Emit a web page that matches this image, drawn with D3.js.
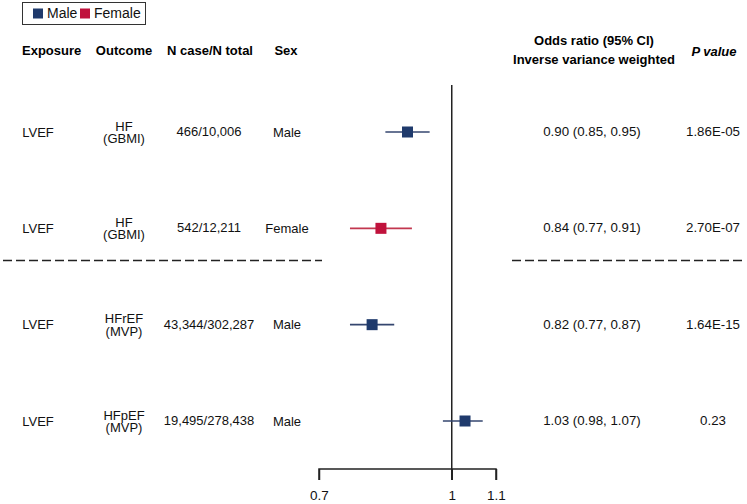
<!DOCTYPE html>
<html><head><meta charset="utf-8">
<script src="https://cdn.jsdelivr.net/npm/d3@7"></script>
<style>body{margin:0;background:#fff}svg{display:block;font-family:"Liberation Sans",Arial,sans-serif}</style>
</head><body><svg id="c" width="747" height="504"></svg>
<script>
const exposures = ["LVEF","LVEF","LVEF","LVEF"];
const outcomes = [["HF","(GBMI)"],["HF","(GBMI)"],["HFrEF","(MVP)"],["HFpEF","(MVP)"]];
const ncases = ["466/10,006","542/12,211","43,344/302,287","19,495/278,438"];
const sexes = ["Male","Female","Male","Male"];
const orValues = [0.90,0.84,0.82,1.03];
const ciLow = [0.85,0.77,0.77,0.98];
const ciHigh = [0.95,0.91,0.87,1.07];
const orLabels = ["0.90 (0.85, 0.95)","0.84 (0.77, 0.91)","0.82 (0.77, 0.87)","1.03 (0.98, 1.07)"];
const pValues = ["1.86E-05","2.70E-07","1.64E-15","0.23"];
const tickValues = [0.7,1,1.1];
const tickLabels = ["0.7","1","1.1"];
const legendItems = ["Male","Female"];

const svg = d3.select("#c");
const colors = {Male:"#1f3a6c", Female:"#c0123c"};
const lineColors = {Male:"#34466f", Female:"#c2374f"};
const x = d3.scaleLinear().domain([0.7,1.1]).range([319,496]);
const y = d3.scalePoint().domain(d3.range(4)).range([132,421]);
const fs = 13;

// legend
const lg = svg.append("g");
lg.append("rect").attr("x",22.5).attr("y",2.5).attr("width",123).attr("height",22).attr("fill","#fff").attr("stroke","#333").attr("stroke-width",1);
const lx = [33,80];
legendItems.forEach((k,i)=>{
  lg.append("rect").attr("x",lx[i]).attr("y",8.5).attr("width",10).attr("height",10).attr("fill",colors[k]);
  lg.append("text").attr("x",lx[i]+14).attr("y",18).attr("font-size",14).attr("fill","#111").text(k);
});

// headers
const hdr = svg.append("g").attr("font-weight","bold").attr("font-size",fs).attr("fill","#000");
hdr.append("text").attr("x",22).attr("y",55).text("Exposure");
hdr.append("text").attr("x",124).attr("y",55).attr("text-anchor","middle").text("Outcome");
hdr.append("text").attr("x",210).attr("y",55).attr("text-anchor","middle").text("N case/N total");
hdr.append("text").attr("x",286).attr("y",55).attr("text-anchor","middle").text("Sex");
hdr.append("text").attr("x",594).attr("y",45).attr("text-anchor","middle").text("Odds ratio (95% CI)");
hdr.append("text").attr("x",594).attr("y",64).attr("text-anchor","middle").text("Inverse variance weighted");
hdr.append("text").attr("x",714).attr("y",56).attr("text-anchor","middle").attr("font-style","italic").text("P value");

// rows
const rows = svg.append("g").attr("font-size",fs).attr("fill","#111");
d3.range(4).forEach(i=>{
  const yy = y(i);
  rows.append("text").attr("x",38).attr("y",yy+4.5).attr("text-anchor","middle").text(exposures[i]);
  const ot = rows.append("text").attr("x",124).attr("y",yy-1.5).attr("text-anchor","middle");
  ot.append("tspan").attr("x",124).attr("y",yy-1.5).text(outcomes[i][0]);
  ot.append("tspan").attr("x",124).attr("y",yy+11).text(outcomes[i][1]);
  rows.append("text").attr("x",209).attr("y",yy+4).attr("text-anchor","middle").text(ncases[i]);
  rows.append("text").attr("x",287).attr("y",yy+4.5).attr("text-anchor","middle").text(sexes[i]);
  rows.append("text").attr("x",592).attr("y",yy+4).attr("text-anchor","middle").attr("font-size",13.3).text(orLabels[i]);
  rows.append("text").attr("x",713).attr("y",yy+4).attr("text-anchor","middle").attr("font-size",13.3).text(pValues[i]);
});

// dashed separators
const sepY = (y(1)+y(2))/2 - 16;
svg.append("line").attr("x1",3).attr("x2",322).attr("y1",sepY).attr("y2",sepY).attr("stroke","#222").attr("stroke-width",1.3).attr("stroke-dasharray","9,4");
svg.append("line").attr("x1",512).attr("x2",744).attr("y1",sepY).attr("y2",sepY).attr("stroke","#222").attr("stroke-width",1.3).attr("stroke-dasharray","9,4");

// reference line
svg.append("line").attr("x1",x(1)).attr("x2",x(1)).attr("y1",85).attr("y2",480).attr("stroke","#222").attr("stroke-width",1.5);

// axis
const axis = d3.axisBottom(x).tickValues(tickValues).tickFormat((d,i)=>tickLabels[i]).tickSize(11).tickPadding(10);
const ag = svg.append("g").attr("transform","translate(0,469)").call(axis);
ag.select(".domain").attr("d",`M${x(0.7)},11V0H${x(1.1)}V11`).attr("stroke","#222").attr("stroke-width",1.5);
ag.selectAll(".tick line").attr("stroke","#222").attr("stroke-width",1.5);
ag.selectAll(".tick text").attr("font-size",13.5).attr("font-family","Liberation Sans, Arial, sans-serif").attr("fill","#111");

// marks
d3.range(4).forEach(i=>{
  const s = sexes[i], yy = y(i);
  svg.append("line").attr("x1",x(ciLow[i])).attr("x2",x(ciHigh[i])).attr("y1",yy).attr("y2",yy).attr("stroke",lineColors[s]).attr("stroke-width",1.6);
  svg.append("rect").attr("x",x(orValues[i])-5.5).attr("y",yy-5.5).attr("width",11).attr("height",11).attr("fill",colors[s]);
});
</script></body></html>
